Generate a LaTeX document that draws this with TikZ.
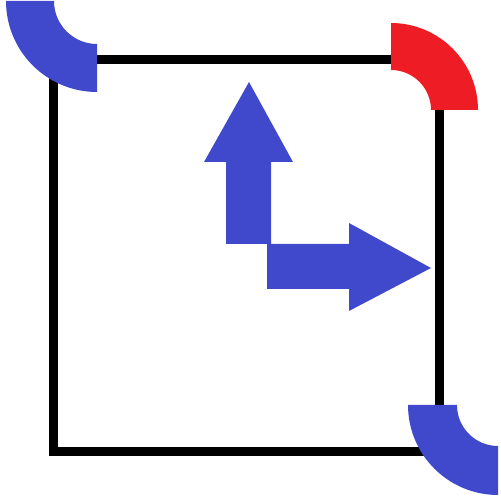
\documentclass[tikz,border=0pt]{standalone}
\begin{document}
\begin{tikzpicture}[x=1pt,y=1pt,
  bluefill/.style={fill={rgb,255:red,64;green,73;blue,204}},
  redfill/.style={fill={rgb,255:red,238;green,29;blue,37}},
  frame/.style={draw=black,line width=9pt}]
\useasboundingbox (0,0) rectangle (501,501);
\clip (0,0) rectangle (501,501);
\draw[frame] (53,441.5) rectangle (439.5,49.5);
% top-left blue sector
\fill[bluefill] (6,500) arc[start angle=180,end angle=270,radius=91]
  -- (97,457) arc[start angle=270,end angle=180,radius=43] -- cycle;
% top-right red sector
\fill[redfill] (478,391) arc[start angle=0,end angle=90,radius=87]
  -- (391,431) arc[start angle=90,end angle=0,radius=40] -- cycle;
% bottom-right blue sector
\fill[bluefill] (408,96) arc[start angle=180,end angle=270,radius=90]
  -- (498,55) arc[start angle=270,end angle=180,radius=41] -- cycle;
% up arrow
\fill[bluefill] (226,257) -- (271,257) -- (271,339) -- (293,339) -- (249,419)
  -- (204,339) -- (226,339) -- cycle;
% right arrow
\fill[bluefill] (267,257) -- (349,257) -- (349,278) -- (431,233) -- (349,190)
  -- (349,212) -- (267,212) -- cycle;
\end{tikzpicture}
\end{document}
